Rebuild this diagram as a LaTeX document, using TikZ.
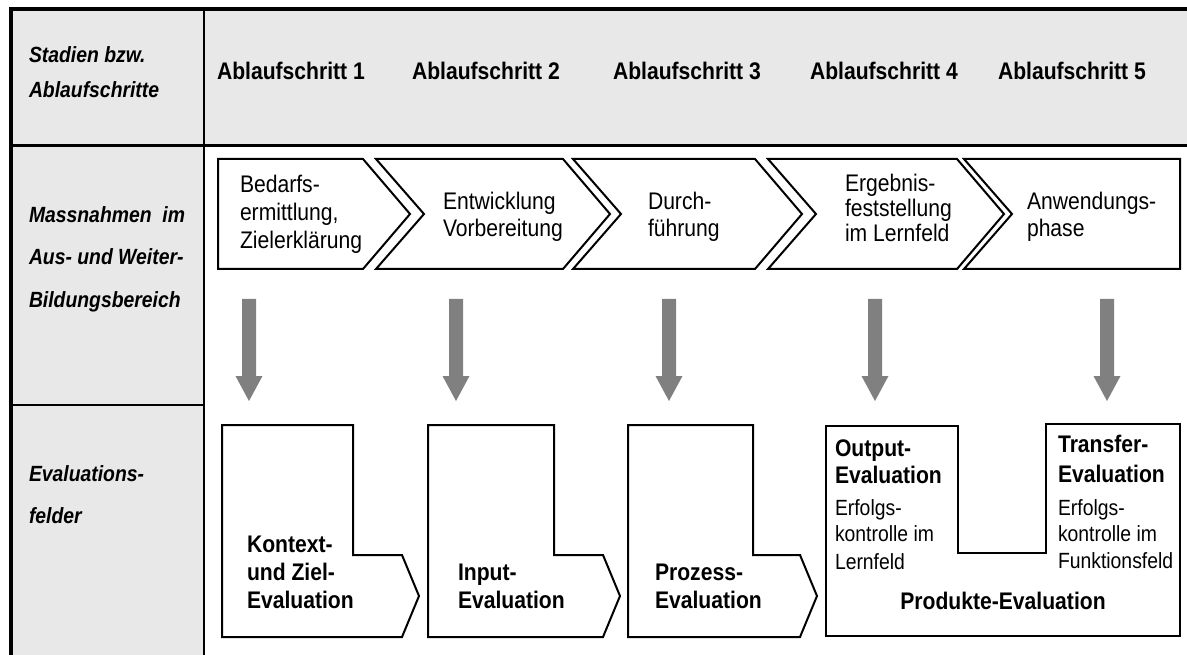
\documentclass[tikz,border=0pt]{standalone}
\usepackage{fontspec}
\setmainfont{Liberation Sans}[FakeStretch=0.88]
\definecolor{panel}{RGB}{232,232,232}
\definecolor{flowgray}{RGB}{128,128,128}

\begin{document}
\begin{tikzpicture}[x=1pt,y=-1pt,
  txt/.style={anchor=base west,inner sep=0pt,outer sep=0pt},
  side/.style={txt,font=\bfseries\itshape\fontsize{22}{26}\selectfont},
  hdr/.style={txt,font=\bfseries\fontsize{24}{28}\selectfont},
  phase/.style={txt,font=\fontsize{24}{28}\selectfont},
  evtitle/.style={txt,font=\bfseries\fontsize{24}{28}\selectfont},
  evnote/.style={txt,font=\fontsize{22}{26}\selectfont},
  stagebox/.style={draw=black,line width=2pt,fill=white,line join=miter},
  flow/.style={fill=flowgray,draw=none}]
\useasboundingbox (0,0) rectangle (1187,655);

% grey panels of the table
\fill[panel] (11,9) rectangle (204,655);
\fill[panel] (204,9) rectangle (1187,145.5);

% table rules
\draw[line width=3.5pt] (11,655) -- (11,9) -- (1187,9);
\draw[line width=2.5pt] (204,9) -- (204,655);
\draw[line width=2.5pt] (11,145.5) -- (1187,145.5);
\draw[line width=1.5pt] (11,405) -- (204,405);

% row labels
\node[side] (st1) at (29,63) {Stadien bzw.};
\node[side] (st2) at (29,98) {Ablaufschritte};
\node[side] (m1) at (29,223) {Massnahmen\ \ im};
\node[side] (m2) at (29,265) {Aus- und Weiter-};
\node[side] (m3) at (29,308) {Bildungsbereich};
\node[side] (e1) at (29,481) {Evaluations-};
\node[side] (e2) at (29,523) {felder};

% column headers
\node[hdr] (h1) at (217,80) {Ablaufschritt 1};
\node[hdr] (h2) at (412,80) {Ablaufschritt 2};
\node[hdr] (h3) at (613,80) {Ablaufschritt 3};
\node[hdr] (h4) at (810,80) {Ablaufschritt 4};
\node[hdr] (h5) at (998,80) {Ablaufschritt 5};

% process chevrons
\draw[stagebox] (218,159) -- (363,159) -- (410,214) -- (363,269) -- (218,269) -- cycle;
\draw[stagebox] (376,159) -- (563,159) -- (610,214) -- (563,269) -- (376,269) -- (424,214) -- cycle;
\draw[stagebox] (573,159) -- (755,159) -- (802,214) -- (755,269) -- (573,269) -- (621,214) -- cycle;
\draw[stagebox] (768,159) -- (957,159) -- (1004,214) -- (957,269) -- (768,269) -- (816,214) -- cycle;
\draw[stagebox] (964,159) -- (1180,159) -- (1180,269) -- (964,269) -- (1012,214) -- cycle;

\node[phase] (p1a) at (240,193) {Bedarfs-};
\node[phase] (p1b) at (240,221) {ermittlung,};
\node[phase] (p1c) at (240,249) {Zielerklärung};
\node[phase] (p2a) at (443,210) {Entwicklung};
\node[phase] (p2b) at (443,237) {Vorbereitung};
\node[phase] (p3a) at (648,210) {Durch-};
\node[phase] (p3b) at (648,237) {führung};
\node[phase] (p4a) at (845,192) {Ergebnis-};
\node[phase] (p4b) at (845,217) {feststellung};
\node[phase] (p4c) at (845,242) {im Lernfeld};
\node[phase] (p5a) at (1027,210) {Anwendungs-};
\node[phase] (p5b) at (1027,237) {phase};

% downward block arrows
\foreach \cx in {249,456,669,875,1107}
  \fill[flow] (\cx-7,299) -- (\cx+7,299) -- (\cx+7,376) -- (\cx+13.5,376)
    -- (\cx,401) -- (\cx-13.5,376) -- (\cx-7,376) -- cycle;

% evaluation fields
\draw[stagebox] (222,425) -- (353,425) -- (353,555) -- (402,555) -- (419,596)
  -- (402,637) -- (222,637) -- cycle;
\draw[stagebox] (428,425) -- (554,425) -- (554,555) -- (603,555) -- (620,596)
  -- (603,637) -- (428,637) -- cycle;
\draw[stagebox] (628,425) -- (753,425) -- (753,555) -- (800,555) -- (817,596)
  -- (800,637) -- (628,637) -- cycle;
\draw[stagebox] (826,426) -- (958,426) -- (958,553) -- (1046,553) -- (1046,424)
  -- (1180,424) -- (1180,636) -- (826,636) -- cycle;

\node[evtitle] (k1) at (247,552) {Kontext-};
\node[evtitle] (k2) at (247,580) {und Ziel-};
\node[evtitle] (k3) at (247,608) {Evaluation};
\node[evtitle] (i1) at (458,580) {Input-};
\node[evtitle] (i2) at (458,608) {Evaluation};
\node[evtitle] (z1) at (655,580) {Prozess-};
\node[evtitle] (z2) at (655,608) {Evaluation};

\node[evtitle] (o1) at (835,456) {Output-};
\node[evtitle] (o2) at (835,483) {Evaluation};
\node[evnote] (o3) at (835,515) {Erfolgs-};
\node[evnote] (o4) at (835,541) {kontrolle im};
\node[evnote] (o5) at (835,569) {Lernfeld};

\node[evtitle] (t1) at (1058,452) {Transfer-};
\node[evtitle] (t2) at (1058,482) {Evaluation};
\node[evnote] (t3) at (1058,515) {Erfolgs-};
\node[evnote] (t4) at (1058,541) {kontrolle im};
\node[evnote] (t5) at (1058,568) {Funktionsfeld};

\node[evtitle,anchor=base] (pe) at (1003,609) {Produkte-Evaluation};
\end{tikzpicture}
\end{document}
